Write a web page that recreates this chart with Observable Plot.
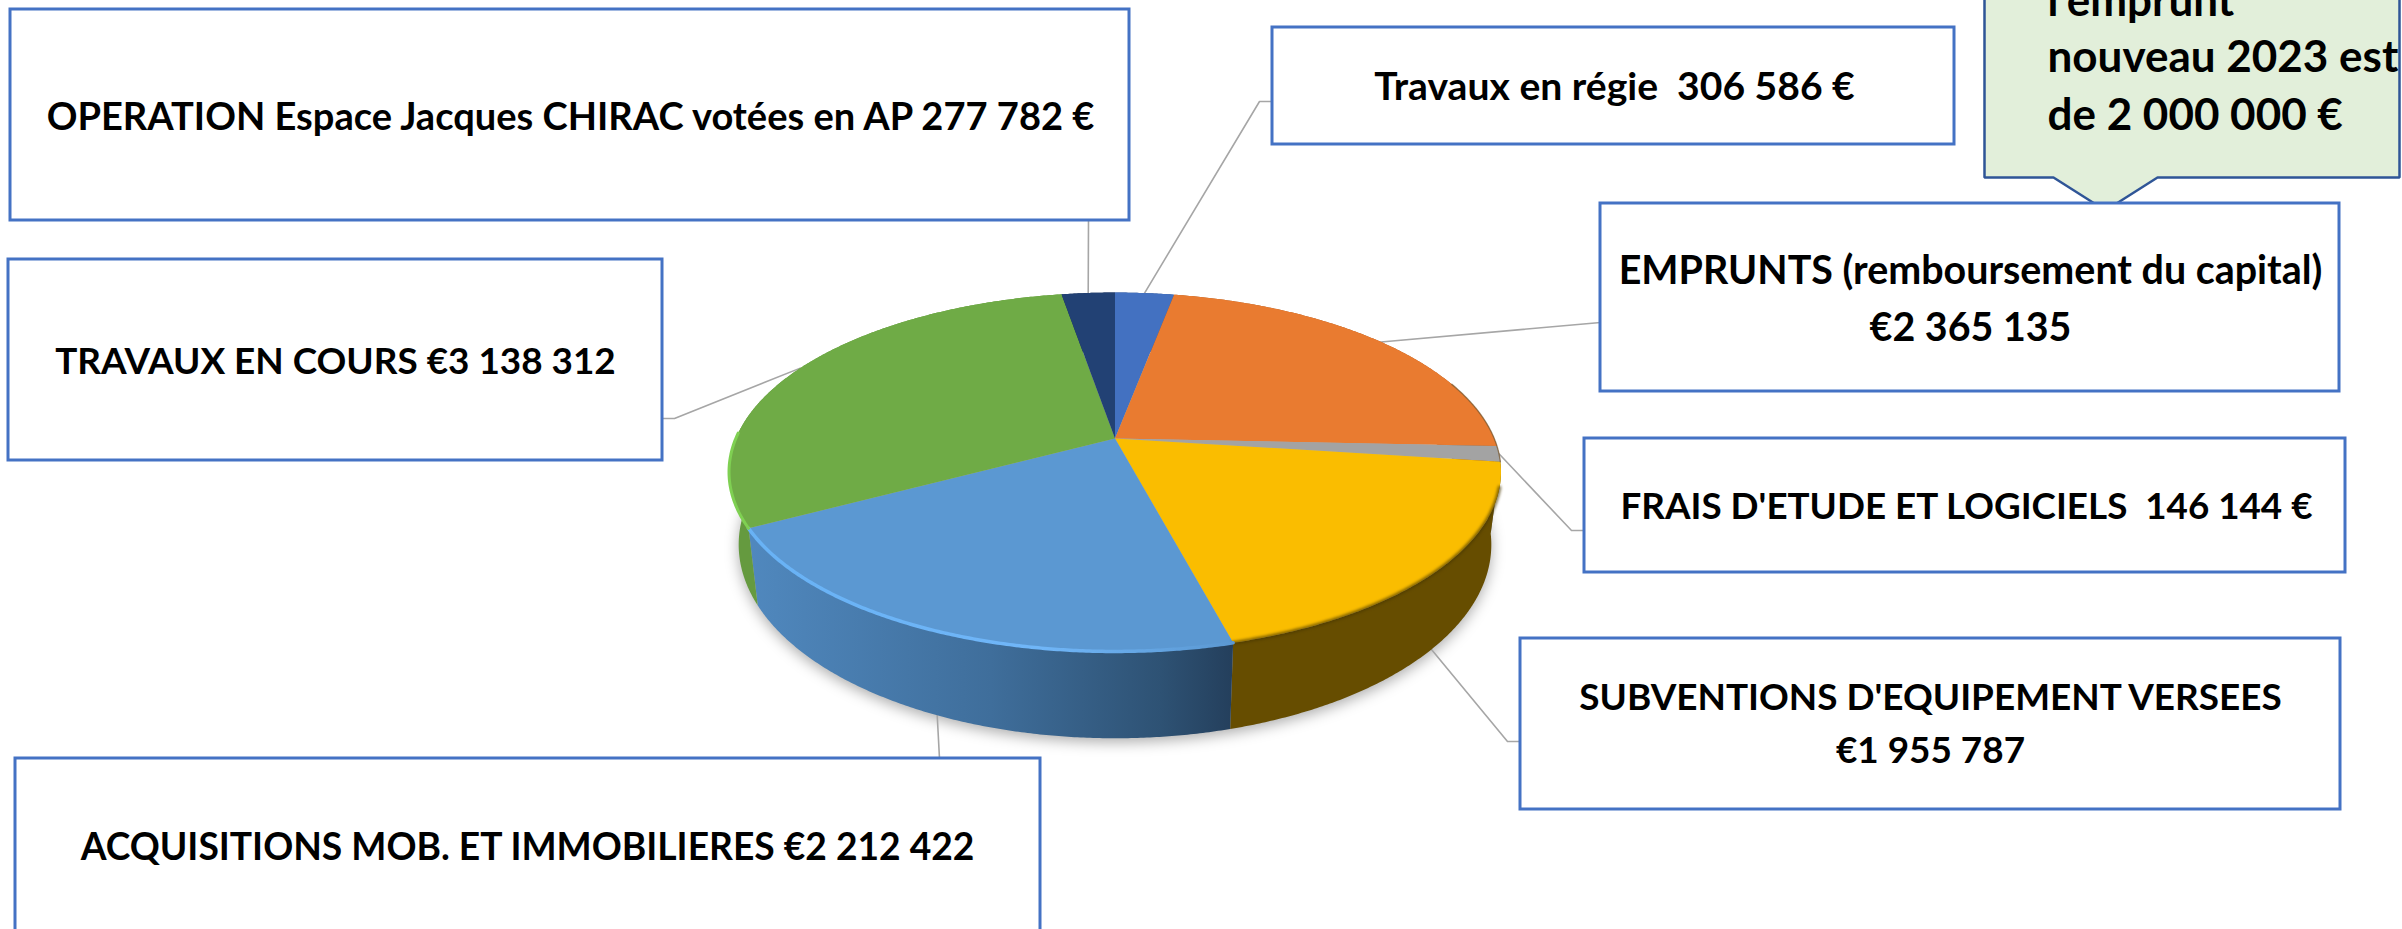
<!DOCTYPE html>
<html lang="fr">
<head>
<meta charset="utf-8">
<style>
html,body{margin:0;padding:0;background:#fff;overflow:hidden;width:2402px;height:929px}
svg{display:block;overflow:hidden}
</style>
<script src="https://cdn.jsdelivr.net/npm/d3@7"></script>
<script src="https://cdn.jsdelivr.net/npm/@observablehq/plot@0.6"></script>
</head>
<body>
<script>
// ---- data ----
const categories = ["Travaux en régie","EMPRUNTS","FRAIS D'ETUDE ET LOGICIELS","SUBVENTIONS D'EQUIPEMENT VERSEES","ACQUISITIONS MOB. ET IMMOBILIERES","TRAVAUX EN COURS","OPERATION Espace Jacques CHIRAC"];
const values = [306586,2365135,146144,1955787,2212422,3138312,277782];
const labels = [
  ["Travaux en régie  306 586 €"],
  ["EMPRUNTS (remboursement du capital)","€2 365 135"],
  ["FRAIS D'ETUDE ET LOGICIELS  146 144 €"],
  ["SUBVENTIONS D'EQUIPEMENT VERSEES","€1 955 787"],
  ["ACQUISITIONS MOB. ET IMMOBILIERES €2 212 422"],
  ["TRAVAUX EN COURS €3 138 312"],
  ["OPERATION Espace Jacques CHIRAC votées en AP 277 782 €"]
];
const calloutLines = ["l'emprunt","nouveau 2023 est","de 2 000 000 €"];

// ---- styles ----
const topColors  = ["#4371c1","#e97b30","#a3a3a3","#fabd00","#5b98d2","#6fab46","#224174"];
const sideColors = ["#2f4f88","#a3561f","#6e6e6e","#664d00","url(#blueSide)","#659a3f","#182d52"];
const labelSizes = [39.1,39.4,36.8,36.9,37.2,36.9,38.05];

// ---- layout (annotation frames, in picture units) ----
const boxes = [
  {x1:1272,x2:1954,y1:27,y2:144,  tx:1614,ty:[87],     elbow:[[1272,101],[1259,101]]},
  {x1:1600,x2:2339,y1:203,y2:391, tx:1970,ty:[271,328],elbow:[[1600,322]]},
  {x1:1584,x2:2345,y1:438,y2:572, tx:1966,ty:[507],    elbow:[[1584,530],[1571,530]]},
  {x1:1520,x2:2340,y1:638,y2:809, tx:1930,ty:[698,751],elbow:[[1520,741],[1507,741]]},
  {x1:15,  x2:1040,y1:758,y2:960, tx:527, ty:[848],    elbow:[[939,758]]},
  {x1:8,   x2:662, y1:259,y2:460, tx:335, ty:[362],    elbow:[[662,418],[674,418]]},
  {x1:10,  x2:1129,y1:9,  y2:220, tx:570, ty:[117],    elbow:[[1088,220]]}
];
const leaderOnSide = [false,false,false,true,true,false,false];
const callout = {x:[2399,2399,2157,2105,2053,1984,1984,2399], y:[-60,177,177,210,177,177,-60,-60], tx:2047, baselines:[12,68,126]};

// perspective of the disc
const K=.1866, CX=1114.5;
const discTop    = {a:379.2,  b:173.2, y0:438};
const discBottom = {a:369.7,  b:186.9, y0:508};
function project(deg, d){
  const t = deg*Math.PI/180, u = Math.sin(t), v = -Math.cos(t), w = 1-K*v;
  return {x: CX+d.a*u/w, y: d.y0+d.b*v/w};
}
const total = d3.sum(values);
let acc = 0;
const slices = values.map((v,i)=>{
  const start = acc/total*360; acc += v; const end = acc/total*360;
  return {category:categories[i], i, start, end, mid:(start+end)/2};
});
const arc = (a,b,d)=>{
  const n = Math.max(2,Math.ceil((b-a)/.4));
  return d3.range(n+1).map(k=>project(a+(b-a)*k/n,d));
};
const apex = {x:CX,y:discTop.y0};
const topPts = slices.flatMap(s=>[apex,...arc(s.start,s.end,discTop),apex].map(p=>({...p,category:s.category})));
const ring = (d,dy=0)=>arc(0,360,d).map(p=>({x:p.x,y:p.y+dy}));

const sideMarks = slices.map(s=>Plot.line(
  [...arc(s.start,s.end,discTop),...arc(s.start,s.end,discBottom).reverse()],
  {x:"x",y:"y",fill:sideColors[s.i],stroke:"none"}));

const leaders = boxes.map((b,i)=>{
  const end = project(slices[i].mid, leaderOnSide[i]?discBottom:discTop);
  return [...b.elbow.map(([x,y])=>({x,y})),end];
});

const textMarks = boxes.flatMap((b,i)=>labels[i].map((t,j)=>
  Plot.text([{t,x:b.tx,y:b.ty[j]}],{x:"x",y:"y",text:"t",textAnchor:"middle",lineAnchor:"middle",fontSize:labelSizes[i],fontWeight:700,fill:"#000"})));

const chart = Plot.plot({
  width:2402,height:929,margin:0,
  style:{background:"#fff",fontFamily:"Lato, 'Open Sans', sans-serif"},
  x:{domain:[0,2402],range:[0,2402],axis:null},
  y:{domain:[0,929],range:[0,929],axis:null},
  color:{domain:categories,range:topColors},
  marks:[
    // shadow
    Plot.line(ring(discBottom,4),{x:"x",y:"y",fill:"#000",fillOpacity:.32,stroke:"none",imageFilter:"blur(7px)"}),
    // leaders
    ...leaders.map(l=>Plot.line(l,{x:"x",y:"y",stroke:"#a6a6a6",strokeWidth:1.6})),
    // callout
    Plot.line(d3.range(callout.x.length).map(i=>({x:callout.x[i],y:callout.y[i]})),{x:"x",y:"y",fill:"#e2efda",stroke:"#2f5597",strokeWidth:2.5,strokeLinejoin:"miter"}),
    Plot.text(calloutLines.map((t,i)=>({t,y:callout.baselines[i]})),{x:()=>callout.tx,y:"y",text:"t",textAnchor:"start",lineAnchor:"bottom",fontSize:44,fontWeight:700,fill:"#000",dy:3}),
    // frames
    Plot.rect(boxes,{x1:"x1",x2:"x2",y1:"y1",y2:"y2",fill:"#fff",stroke:"#4472c4",strokeWidth:3}),
    ...textMarks,
    // disc
    ...sideMarks,
    Plot.line(topPts,{x:"x",y:"y",fill:"category",stroke:"none"}),
    // rim shading
    Plot.line(arc(slices[3].start+8,slices[3].end,discTop),{x:"x",y:"y",stroke:"#4a3800",strokeWidth:3,strokeOpacity:.8,imageFilter:"blur(1.5px)"}),
    Plot.line(arc(slices[4].start,slices[4].end,discTop),{x:"x",y:"y",stroke:"url(#blueLip)",strokeWidth:3.5}),
    Plot.line(arc(slices[5].start,slices[5].start+30,discTop),{x:"x",y:"y",stroke:"url(#greenLip)",strokeWidth:3}),
    Plot.line(arc(slices[1].start+60,slices[2].end,discTop),{x:"x",y:"y",stroke:"#7a5a30",strokeWidth:1.4,strokeOpacity:.7})
  ]
});

// gradients used by the blue wall and lips
const ns = "http://www.w3.org/2000/svg";
const defs = document.createElementNS(ns,"defs");
function grad(id,stops){
  const g = document.createElementNS(ns,"linearGradient");
  g.setAttribute("id",id);
  stops.forEach(([o,c])=>{
    const s = document.createElementNS(ns,"stop");
    s.setAttribute("offset",o); s.setAttribute("stop-color",c); g.appendChild(s);
  });
  defs.appendChild(g);
}
grad("blueSide",[[0,"#5088be"],[.5,"#3f6e9b"],[.85,"#2e5274"],[1,"#243f5c"]]);
grad("blueLip",[[0,"#68b2f5"],[.6,"#70b6f8"],[1,"#5b98d2"]]);
grad("greenLip",[[0,"#7fd052"],[1,"#7fd052"]]);
chart.insertBefore(defs,chart.firstChild);
document.body.appendChild(chart);
</script>
</body>
</html>
